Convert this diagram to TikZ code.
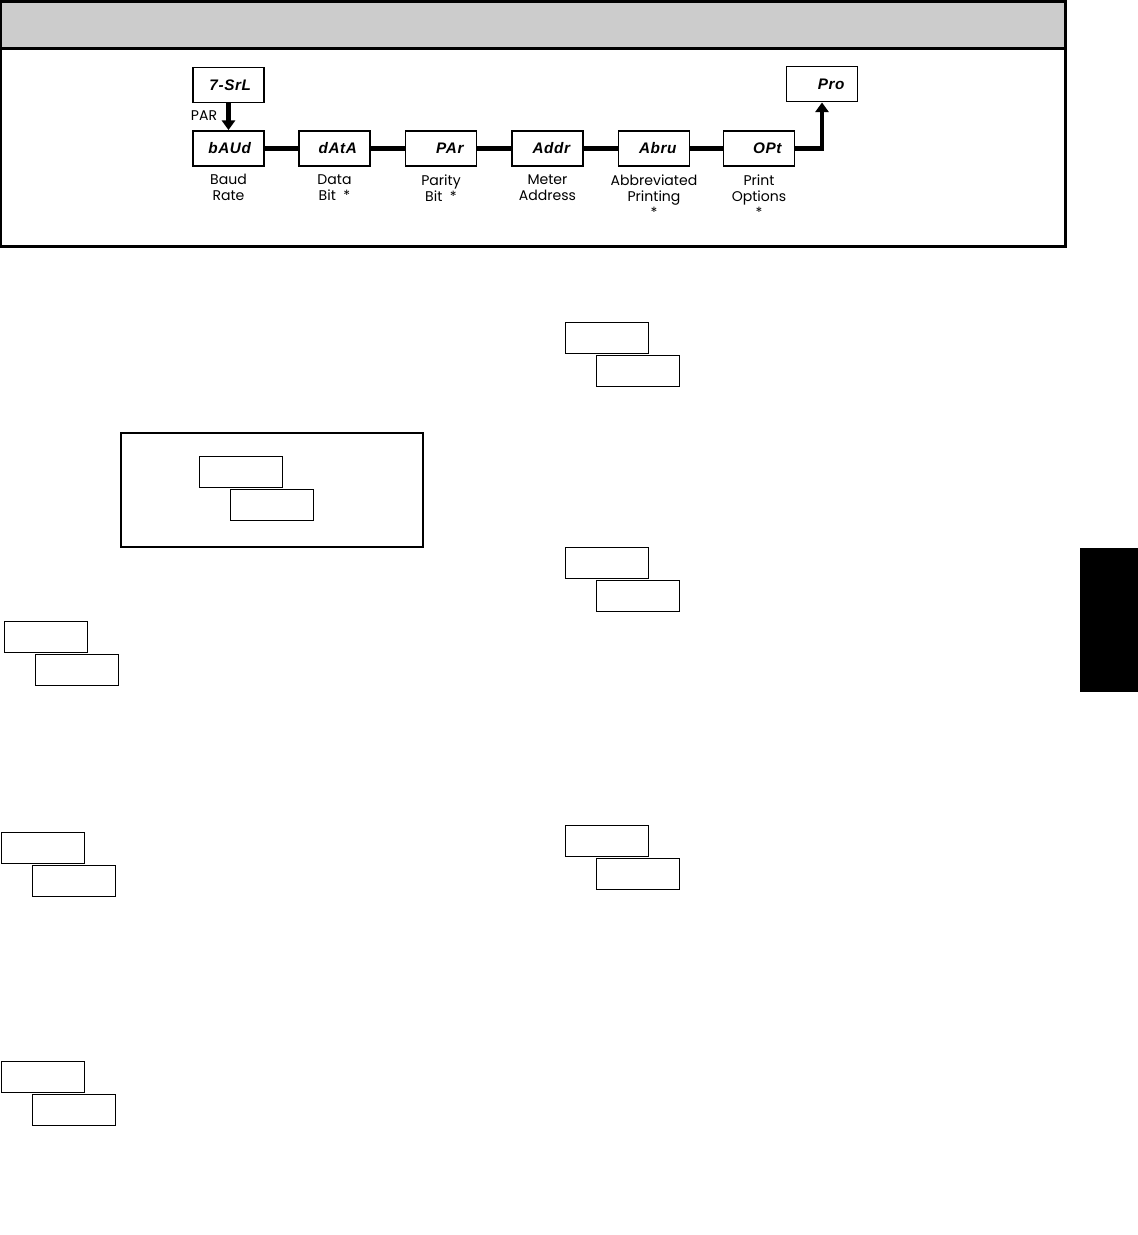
\documentclass[tikz,border=0pt]{standalone}
\usepackage{fontspec}
\setmainfont{Poppins}
\newfontfamily\segfont[LetterSpace=4]{Liberation Sans}
\usetikzlibrary{arrows.meta,positioning}

\begin{document}
\begin{tikzpicture}[
  x=0.02cm, y=-0.02cm,
  disp/.style={draw, line width=1.1pt, minimum width=1.42cm, minimum height=0.7cm,
               inner sep=0pt, text width=0.9cm, align=right,
               font=\segfont\bfseries\itshape\fontsize{8.7}{9}\selectfont},
  lbl/.style={font=\fontsize{8}{9.2}\selectfont, align=center, inner sep=0pt},
  link/.style={line width=2.3pt},
  blank/.style={draw, line width=0.8pt, minimum width=1.66cm, minimum height=0.62cm,
                inner sep=0pt, anchor=north west},
  >={Triangle[length=5.5pt,width=7.5pt]}
]
\useasboundingbox (0,0) rectangle (1138,1235);
\fill[black!20] (1,1) rectangle (1065,48);
\draw[line width=1.7pt] (1,1) rectangle (1065,246);
\draw[line width=2.2pt] (1,48.5) -- (1065,48.5);

\node[disp] (srl)  at (228.5, 85)   {7-SrL};
\node[disp] (baud) at (228.5,148.5) {bAUd};
\node[disp] (data) at (334.5,148.5) {dAtA};
\node[disp] (par)  at (441,  148.5) {PAr};
\node[disp] (addr) at (547.5,148.5) {Addr};
\node[disp] (abru) at (654,  148.5) {Abru};
\node[disp] (opt)  at (759,  148.5) {OPt};
\node[disp] (pro)  at (822,   84)   {Pro};

\node[lbl] (parlbl) at (204,116) {PAR};
\node[lbl, below=0.14cm of baud] (baudlbl) {Baud\\Rate};
\node[lbl, below=0.14cm of data] (datalbl) {Data\\Bit\ \ *};
\node[lbl, below=0.14cm of par]  (parlbl2) {Parity\\Bit\ \ *};
\node[lbl, below=0.14cm of addr] (addrlbl) {Meter\\Address};
\node[lbl, below=0.14cm of abru] (abrulbl) {Abbreviated\\Printing\\*};
\node[lbl, below=0.14cm of opt]  (optlbl)  {Print\\Options\\*};

\draw[link,->] (srl) -- (baud);
\draw[link] (baud) -- (data);
\draw[link] (data) -- (par);
\draw[link] (par)  -- (addr);
\draw[link] (addr) -- (abru);
\draw[link] (abru) -- (opt);
\draw[link,->] (opt.east) -| (pro.south);

\draw[line width=0.8pt] (121,433) rectangle (423,547);
\foreach \i/\bx/\by in {1/199/456, 2/4/621, 3/1/832, 4/1/1061, 5/565/322, 6/565/547, 7/565/825} {
  \node[blank] (up\i) at (\bx,\by) {};
  \node[blank] (lo\i) at (\bx+31,\by+33) {};
}
\fill (1080,548) rectangle (1138,692);
\end{tikzpicture}
\end{document}
